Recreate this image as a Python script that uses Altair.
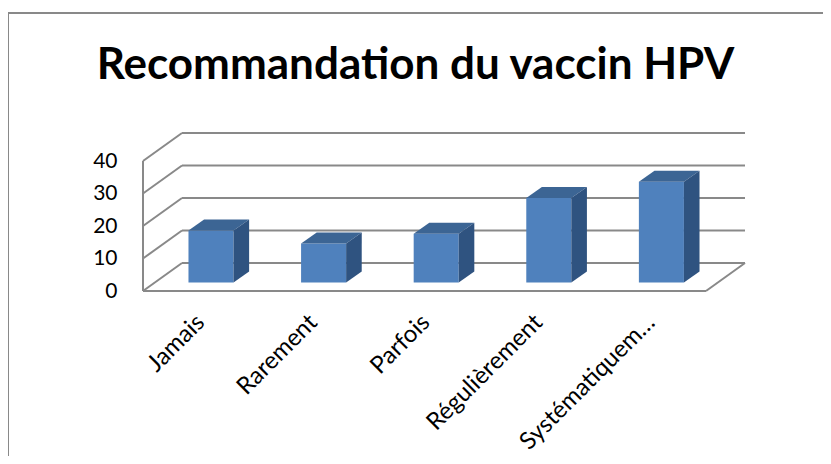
import altair as alt
import pandas as pd

# ---- data ----
categories = ["Jamais", "Rarement", "Parfois", "Régulièrement", "Systématiquement"]
values = [16, 12, 15, 26, 31]
ticks = [0, 10, 20, 30, 40]
title_text = "Recommandation du vaccin HPV"

# ---- layout / geometry constants (pixels inside the view) ----
W, H = 815, 443
X0, Y0 = 135, 278          # front-left floor corner inside the view
SLOT, PPU = 112.6, 3.25    # px per category slot, px per value unit
DX, DY = 39 / SLOT, 28 / PPU   # depth offset in data units
BAR_W = 0.4
D0, D1 = 0.3, 0.7          # bar depth span (fraction of full depth)
GRID = "#898989"
FRONT, TOP, SIDE = "#4F81BD", "#3C6594", "#2F5380"
FONT = "Lato"

xs = alt.Scale(domain=[-X0 / SLOT, (W - X0) / SLOT], nice=False, zero=False)
ys = alt.Scale(domain=[-(H - Y0) / PPU, Y0 / PPU], nice=False, zero=False)
yaxis = alt.Axis(values=ticks, offset=-X0, domain=False, ticks=False, tickSize=0,
                 grid=False, labelPadding=26, labelFont=FONT, labelFontSize=21,
                 labelColor="black", title=None)
n = len(categories)

# ---- gridlines / walls ----
grid_rows = []
for t in ticks:
    grid_rows.append(dict(x=0, y=t, x2=DX, y2=t + DY))
    grid_rows.append(dict(x=DX, y=t + DY, x2=n + DX, y2=t + DY))
grid_rows.append(dict(x=0, y=0, x2=0, y2=ticks[-1]))
grid_rows.append(dict(x=0, y=0, x2=n, y2=0))
grid_rows.append(dict(x=n, y=0, x2=n + DX, y2=DY))
grid_df = pd.DataFrame(grid_rows)

grid = alt.Chart(grid_df).mark_rule(color=GRID, strokeWidth=2).encode(
    x=alt.X("x:Q", scale=xs, axis=None),
    y=alt.Y("y:Q", scale=ys, axis=yaxis),
    x2="x2:Q", y2="y2:Q",
)

# ---- bars: front, top, side faces ----
front_rows, top_rows, side_rows = [], [], []
ddx, ddy = (D1 - D0) * DX, (D1 - D0) * DY
for i, (c, v) in enumerate(zip(categories, values)):
    L = i + 0.5 - BAR_W / 2 + D0 * DX
    R = L + BAR_W
    yb = D0 * DY
    yt = v + D0 * DY
    front_rows.append(dict(cat=c, xl=L, xr=R, yb=yb, yt=yt))
    for k, (px, lo, hi) in enumerate([(L, yt, yt), (L + ddx, yt, yt + ddy),
                                      (R, yt, yt + ddy), (R + ddx, yt + ddy, yt + ddy)]):
        top_rows.append(dict(cat=c, k=k, x=px, lo=lo, hi=hi))
    for k, (px, lo, hi) in enumerate([(R, yb, yt), (R + ddx, yb + ddy, yt + ddy)]):
        side_rows.append(dict(cat=c, k=k, x=px, lo=lo, hi=hi))

front = alt.Chart(pd.DataFrame(front_rows)).mark_rect(color=FRONT).encode(
    x=alt.X("xl:Q", scale=xs, axis=None), x2="xr:Q",
    y=alt.Y("yb:Q", scale=ys, axis=yaxis), y2="yt:Q",
)
top = alt.Chart(pd.DataFrame(top_rows)).mark_area(color=TOP, opacity=1).encode(
    x=alt.X("x:Q", scale=xs, axis=None),
    y=alt.Y("lo:Q", scale=ys, axis=yaxis, stack=None), y2="hi:Q",
    detail="cat:N",
)
side = alt.Chart(pd.DataFrame(side_rows)).mark_area(color=SIDE, opacity=1).encode(
    x=alt.X("x:Q", scale=xs, axis=None),
    y=alt.Y("lo:Q", scale=ys, axis=yaxis, stack=None), y2="hi:Q",
    detail="cat:N",
)

# ---- category labels ----
lab_df = pd.DataFrame(dict(cat=categories,
                           x=[i + 0.5 + 0.015 for i in range(n)],
                           y=[-28 / PPU] * n))
labels = alt.Chart(lab_df).mark_text(angle=315, align="right", baseline="middle",
                                     font=FONT, fontSize=24, color="black",
                                     limit=186).encode(
    x=alt.X("x:Q", scale=xs, axis=None),
    y=alt.Y("y:Q", scale=ys, axis=yaxis),
    text="cat:N",
)

# ---- outer chart border (top and left edges visible) ----
border_top = alt.Chart(pd.DataFrame({"a": [0]})).mark_rule(color=GRID, strokeWidth=2).encode(
    x=alt.value(0), x2=alt.value(W), y=alt.value(0))
border_left = alt.Chart(pd.DataFrame({"a": [0]})).mark_rule(color=GRID, strokeWidth=2).encode(
    x=alt.value(0), y=alt.value(0), y2=alt.value(H))

chart = alt.layer(grid, front, top, side, labels, border_top, border_left).properties(
    width=W, height=H,
    autosize=alt.AutoSizeParams(type="none"),
    padding={"left": 0, "top": 5, "right": 0, "bottom": 0},
    title=alt.Title(title_text, font=FONT, fontSize=44, fontWeight="bold",
                    color="black", anchor="middle", offset=-76, frame="group"),
).configure_view(stroke=None).configure(background="white")

chart.save("out.html", embed_options={"renderer": "svg", "actions": False})
